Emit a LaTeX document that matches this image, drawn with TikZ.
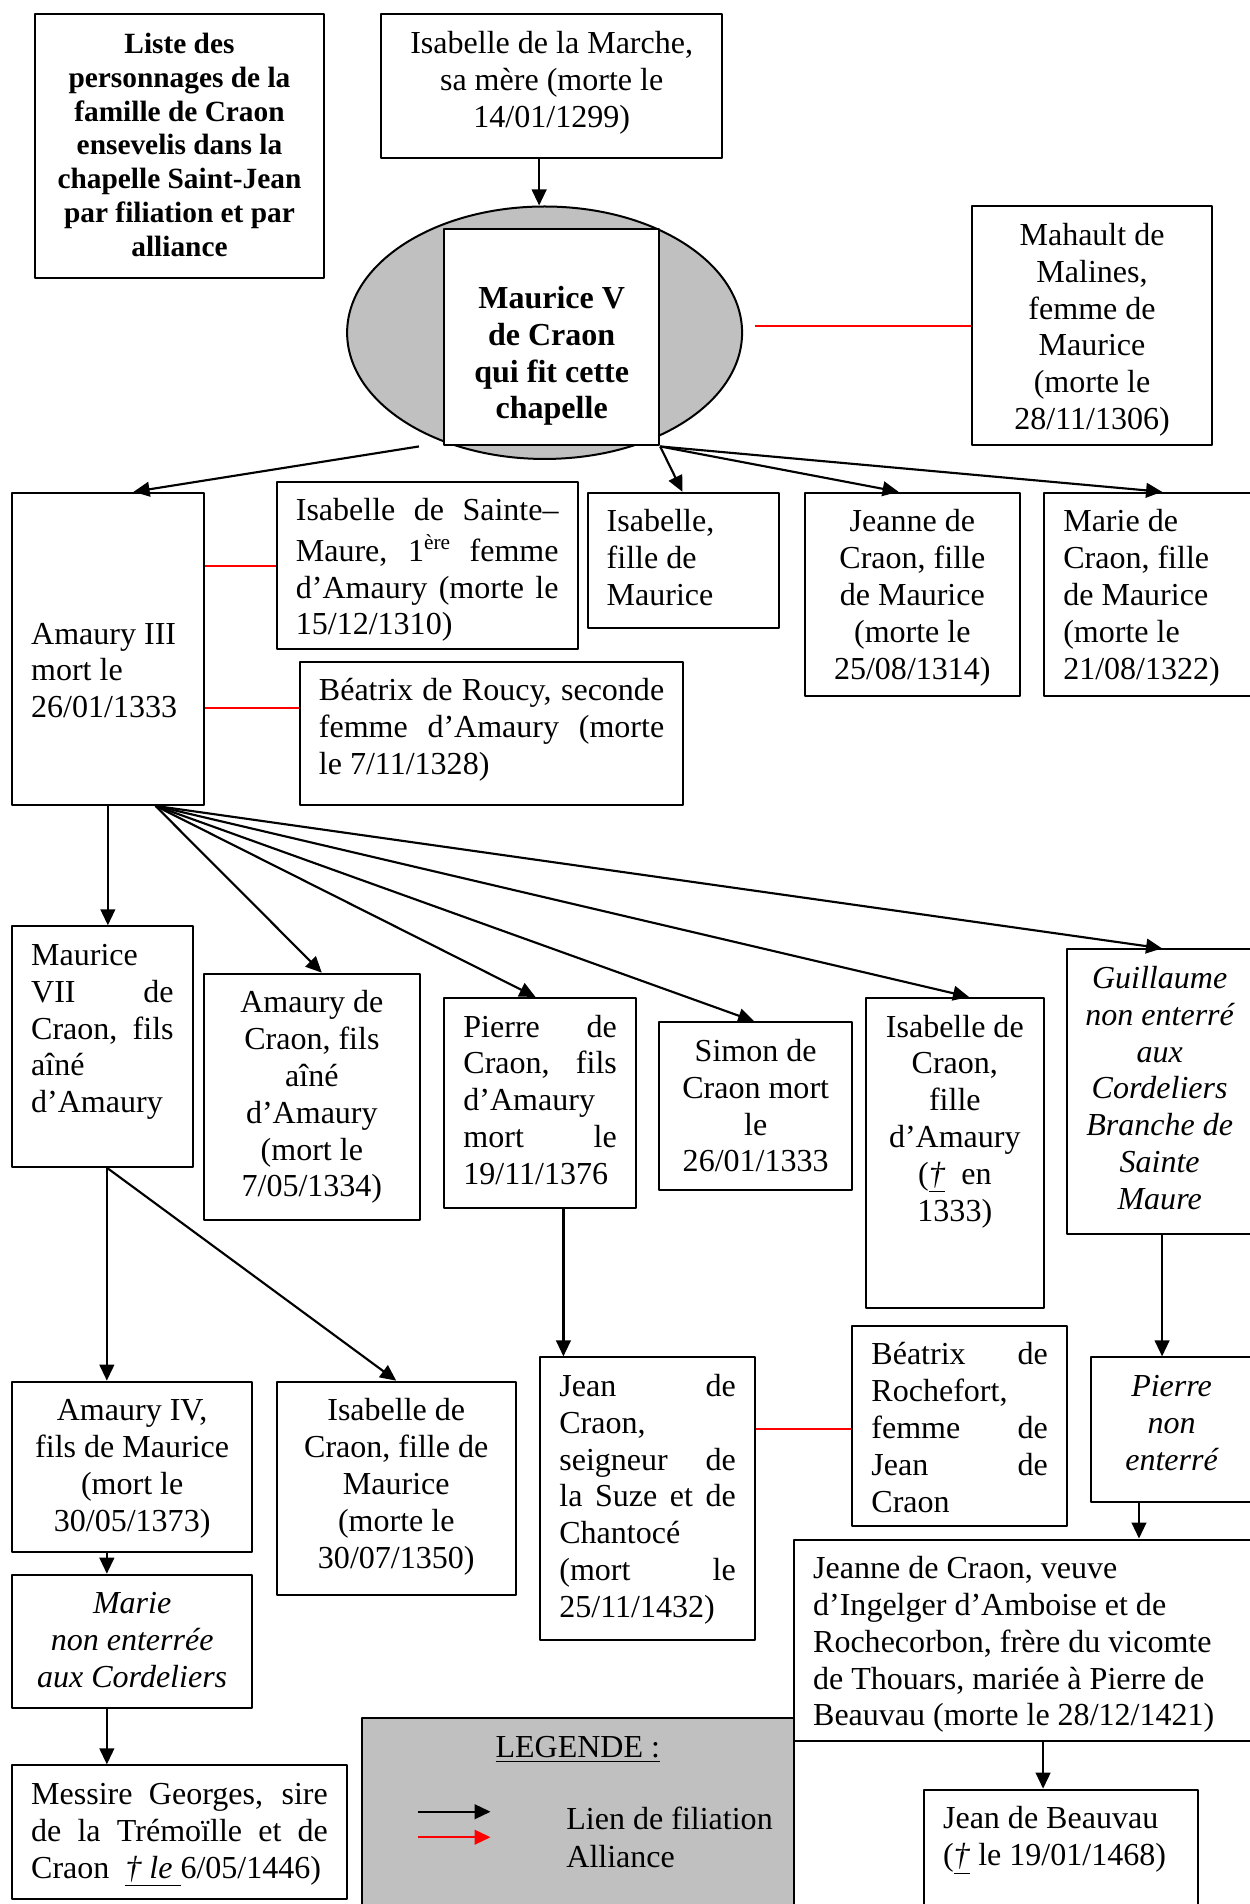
\documentclass[tikz,border=0pt]{standalone}
\usepackage{fontspec}
\setmainfont{Liberation Serif}
\usetikzlibrary{arrows.meta,shapes.geometric}
\definecolor{gris}{HTML}{C0C0C0}
\newlength{\px}
\setlength{\px}{0.455pt}
% cadre de texte : [décalage]{largeur}{hauteur}{texte}, largeur et hauteur en px
\newcommand{\cadre}[4][0pt]{\parbox[t][\dimexpr#3\px-10pt\relax][t]{\dimexpr#2\px-14.4pt\relax}{\vspace*{#1}\strut#4}}

\begin{document}
\begin{tikzpicture}[x=0.455pt, y=-0.455pt, line join=round, >={Triangle[length=6pt,width=5.5pt]},
	boite/.style={draw, line width=0.75pt, fill=white, anchor=north west, inner xsep=7.2pt, inner ysep=5pt, font=\fontsize{12}{13.8}\selectfont},
	filiation/.style={->, line width=0.8pt},
	alliance/.style={draw=red, line width=0.8pt}]
	\useasboundingbox (0,0) rectangle (1029,1568);
	% Titre et Maurice V
	\node[boite] (liste) at (28,11) {\cadre{238}{217}{\centering\fontsize{11}{12.65}\selectfont\bfseries Liste des\\ personnages de la\\ famille de Craon\\ ensevelis dans la\\ chapelle Saint-Jean\\ par filiation et par\\ alliance}};
	\node[boite] (isamarche) at (313,11) {\cadre{281}{118}{\centering Isabelle de la Marche,\\ sa mère (morte le\\ 14/01/1299)}};
	\node[ellipse, draw, line width=0.75pt, fill=gris, minimum width=148pt, minimum height=94.6pt, inner sep=0pt] (ovale) at (448.5,274) {};
	\node[boite] (mauricev) at (365,188) {\cadre[15pt]{177}{178}{\centering\bfseries Maurice V\\ de Craon\\ qui fit cette\\ chapelle}};
	\node[boite] (mahault) at (800,169) {\cadre{197}{197}{\centering Mahault de\\ Malines,\\ femme de\\ Maurice\\ (morte le\\ 28/11/1306)}};
	% Enfants de Maurice V
	\node[boite] (amaury3) at (9,405) {\cadre[42pt]{158}{257}{\raggedright Amaury III\\ mort le\\ 26/01/1333}};
	\node[boite] (stemaure) at (227,396) {\cadre{248}{138}{Isabelle de Sainte–\linebreak Maure, 1\textsuperscript{ère} femme\linebreak d’Amaury (morte le\linebreak 15/12/1310)}};
	\node[boite] (isafille) at (483,405) {\cadre{158}{111}{\raggedright Isabelle,\\ fille de\\ Maurice}};
	\node[boite] (jeanne) at (662,405) {\cadre{177}{167}{\centering Jeanne de\\ Craon, fille\\ de Maurice\\ (morte le\\ 25/08/1314)}};
	\node[boite] (marie) at (859,405) {\cadre{172}{167}{\raggedright Marie de\\ Craon, fille\\ de Maurice\\ (morte le\\ 21/08/1322)}};
	\node[boite] (beatrixroucy) at (246,544) {\cadre{316}{118}{Béatrix de Roucy, seconde\linebreak femme d’Amaury (morte\linebreak le 7/11/1328)}};
	% Enfants d'Amaury III
	\node[boite] (mauricevii) at (9,762) {\cadre{149}{198}{Maurice\linebreak VII de\linebreak Craon, fils\linebreak aîné\linebreak d’Amaury}};
	\node[boite] (amauryc) at (167,801) {\cadre{178}{203}{\centering Amaury de\\ Craon, fils\\ aîné\\ d’Amaury\\ (mort le\\ 7/05/1334)}};
	\node[boite] (pierre) at (365,821) {\cadre{158}{173}{Pierre de\linebreak Craon, fils\linebreak d’Amaury\linebreak mort le\linebreak 19/11/1376}};
	\node[boite] (simon) at (542,841) {\cadre{159}{138}{\centering Simon de\\ Craon mort\\ le\\ 26/01/1333}};
	\node[boite] (isacraon) at (712,821) {\cadre{147}{255}{\centering Isabelle de\\ Craon,\\ fille\\ d’Amaury\\ (\underline{\textit{†}}\ \ en\\ 1333)}};
	\node[boite, inner xsep=2.5pt] (guillaume) at (878,781) {\cadre{173}{234}{\centering\itshape Guillaume\\ non enterré\\ aux\\ Cordeliers\\ Branche de\\ Sainte\\ Maure}};
	% Petits-enfants
	\node[boite] (amaury4) at (9,1137) {\cadre{198}{140}{\centering Amaury IV,\\ fils de Maurice\\ (mort le\\ 30/05/1373)}};
	\node[boite] (isamaurice) at (227,1137) {\cadre{197}{176}{\centering Isabelle de\\ Craon, fille de\\ Maurice\\ (morte le\\ 30/07/1350)}};
	\node[boite] (jean) at (444,1117) {\cadre{177}{233}{Jean de\linebreak Craon,\linebreak seigneur de\linebreak la Suze et de\linebreak Chantocé\linebreak (mort le\linebreak 25/11/1432)}};
	\node[boite] (beatrixr) at (701,1091) {\cadre{177}{165}{Béatrix de\linebreak Rochefort,\linebreak femme de\linebreak Jean de\linebreak Craon}};
	\node[boite] (pierrene) at (898,1117) {\cadre{132}{119}{\centering\itshape Pierre\\ non\\ enterré}};
	\node[boite] (mariene) at (9,1296) {\cadre{198}{110}{\centering\itshape Marie\\ non enterrée\\ aux Cordeliers}};
	\node[boite] (messire) at (9,1453) {\cadre{276}{110}{Messire Georges, sire\linebreak de la Trémoïlle et de\linebreak Craon\ \ \underline{\textit{† le }}6/05/1446)}};
	% Légende
	\node[boite, fill=gris] (legende) at (297,1414) {\cadre{356}{165}{\centering\underline{LEGENDE :}}};
	\draw[filiation] (344,1492) -- (404,1492);
	\draw[filiation, red] (344,1513) -- (404,1513);
	\node[anchor=base west, font=\fontsize{12}{13.8}\selectfont, inner sep=0pt] (lien) at (466,1507) {Lien de filiation};
	\node[anchor=base west, font=\fontsize{12}{13.8}\selectfont, inner sep=0pt] (alli) at (466,1538) {Alliance};
	\node[boite] (jeannev) at (653,1267) {\cadre{376}{166}{\raggedright Jeanne de Craon, veuve\\ d’Ingelger d’Amboise et de\\ Rochecorbon, frère du vicomte\\ de Thouars, mariée à Pierre de\\ Beauvau (morte le 28/12/1421)}};
	\node[boite] (beauvau) at (760,1473) {\cadre{226}{105}{\raggedright Jean de Beauvau\\ (\underline{\textit{†}} le 19/01/1468)}};
	% Liens de filiation
	\draw[filiation] (444,0 |- isamarche.south) -- (444,0 |- ovale.north);
	\draw[filiation] (345,0 |- mauricev.south) -- (110,0 |- amaury3.north);
	\draw[filiation] (mauricev.south east) -- (562,0 |- isafille.north);
	\draw[filiation] (mauricev.south east) -- (740,0 |- jeanne.north);
	\draw[filiation] (mauricev.south east) -- (957,0 |- marie.north);
	\draw[filiation] (amaury3.south) -- (amaury3.south |- mauricevii.north);
	\draw[filiation] (128,0 |- amaury3.south) -- (265,0 |- amauryc.north);
	\draw[filiation] (128,0 |- amaury3.south) -- (441,0 |- pierre.north);
	\draw[filiation] (128,0 |- amaury3.south) -- (621,0 |- simon.north);
	\draw[filiation] (128,0 |- amaury3.south) -- (798,0 |- isacraon.north);
	\draw[filiation] (128,0 |- amaury3.south) -- (957,0 |- guillaume.north);
	\draw[filiation] (88,0 |- mauricevii.south) -- (88,0 |- amaury4.north);
	\draw[filiation] (88,0 |- mauricevii.south) -- (isamaurice.north);
	\draw[filiation] (464,0 |- pierre.south) -- (464,0 |- jean.north);
	\draw[filiation] (957,0 |- guillaume.south) -- (957,0 |- pierrene.north);
	\draw[filiation] (938,0 |- pierrene.south) -- (938,0 |- jeannev.north);
	\draw[filiation] (88,0 |- amaury4.south) -- (88,0 |- mariene.north);
	\draw[filiation] (88,0 |- mariene.south) -- (88,0 |- messire.north);
	\draw[filiation] (859,0 |- jeannev.south) -- (859,0 |- beauvau.north);
	% Alliances
	\draw[alliance] (622,0 |- mahault.west) -- (mahault.west);
	\draw[alliance] (amaury3.east |- stemaure.west) -- (stemaure.west);
	\draw[alliance] (amaury3.east |- 0,583) -- (beatrixroucy.west |- 0,583);
	\draw[alliance] (jean.east |- 0,1177) -- (beatrixr.west |- 0,1177);
\end{tikzpicture}
\end{document}
